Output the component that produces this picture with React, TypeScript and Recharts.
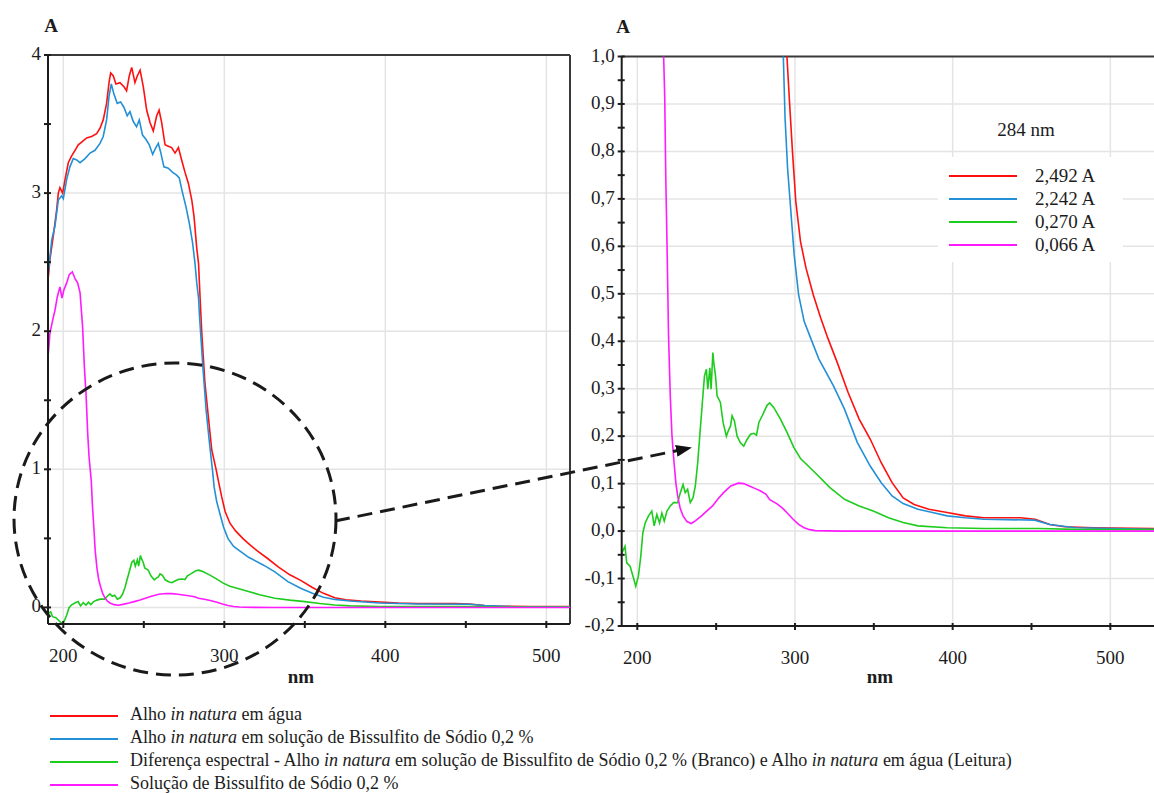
import { LineChart, Line, XAxis, YAxis, CartesianGrid, ReferenceLine } from 'recharts';

const FONT = '"Liberation Serif", "Times New Roman", serif';

// wavelengths (nm) and absorbance (A)
const redNm = [
  190.5, 191.7, 193.8, 195.9, 196.9, 197.9, 199.6, 201.1, 203.1, 205.2, 207.3, 209.3, 211.4, 214.5,
  217.6, 220.7, 222.8, 224.8, 226.9, 228.4, 229.4, 231.0, 232.7, 235.2, 237.7, 239.3, 241.0, 242.5,
  244.5, 246.0, 247.7, 249.7, 251.8, 253.9, 255.9, 258.0, 259.5, 261.1, 263.2, 265.2, 267.3, 269.4,
  271.5, 273.5, 275.6, 277.7, 279.8, 281.2, 282.9, 284.0, 285.0, 286.0, 288.0, 290.1, 292.2, 294.9,
  296.5, 298.4, 300.5, 303.5, 307.0, 311.6, 316.3, 320.9, 326.7, 333.7, 340.7, 347.7, 354.7, 361.6,
  368.6, 375.6, 384.9, 396.5, 408.1, 419.8, 443.0, 452.3, 461.6, 470.9, 489.5, 531.0,
];
const redA = [
  2.37, 2.52, 2.69, 2.88, 3.0, 3.04, 3.0, 3.1, 3.22, 3.27, 3.31, 3.35, 3.37, 3.4,
  3.41, 3.43, 3.47, 3.53, 3.65, 3.8, 3.87, 3.85, 3.79, 3.8, 3.77, 3.74, 3.85, 3.91,
  3.8, 3.85, 3.89, 3.77, 3.6, 3.51, 3.45, 3.56, 3.6, 3.51, 3.35, 3.34, 3.33, 3.29,
  3.33, 3.24, 3.15, 3.07, 2.95, 2.83, 2.6, 2.49, 2.23, 1.99, 1.62, 1.38, 1.14, 1.0,
  0.906, 0.8, 0.695, 0.61, 0.554, 0.498, 0.449, 0.406, 0.356, 0.292, 0.236, 0.194, 0.144, 0.102,
  0.07, 0.056, 0.046, 0.039, 0.032, 0.028, 0.028, 0.025, 0.014, 0.009, 0.007, 0.005,
];

const blueNm = [
  190.5, 192.8, 194.8, 196.9, 199.0, 200.0, 202.1, 204.1, 206.2, 208.3, 210.4, 213.5, 216.6, 219.7,
  222.8, 224.8, 226.9, 228.4, 229.8, 231.4, 233.5, 235.6, 237.7, 239.7, 241.4, 243.4, 245.5, 247.2,
  249.2, 251.3, 253.4, 255.5, 257.5, 259.0, 260.4, 262.5, 265.2, 267.9, 270.4, 272.0, 274.1, 276.2,
  278.3, 280.3, 281.8, 282.9, 284.0, 284.6, 286.7, 288.7, 290.8, 292.6, 293.7, 295.3, 297.7, 299.5,
  302.3, 305.8, 310.0, 315.1, 324.4, 331.4, 339.5, 347.7, 354.7, 361.6, 368.6, 378.0, 387.2, 396.5,
  408.0, 419.8, 452.0, 461.6, 478.0, 531.0,
];
const blueA = [
  2.4, 2.66, 2.76, 2.95, 2.98, 2.96, 3.1, 3.19, 3.25, 3.24, 3.22, 3.25, 3.29, 3.31,
  3.36, 3.41, 3.53, 3.7, 3.79, 3.72, 3.65, 3.66, 3.62, 3.56, 3.59, 3.52, 3.48, 3.53,
  3.42, 3.39, 3.35, 3.28, 3.33, 3.36, 3.3, 3.19, 3.18, 3.15, 3.13, 3.11, 3.0, 2.9,
  2.78, 2.64, 2.49, 2.35, 2.24, 2.11, 1.74, 1.43, 1.19, 1.0, 0.871, 0.765, 0.66, 0.582,
  0.498, 0.442, 0.406, 0.363, 0.306, 0.257, 0.187, 0.137, 0.102, 0.074, 0.058, 0.046, 0.039, 0.032,
  0.028, 0.025, 0.023, 0.014, 0.007, 0.0035,
];

const greenNm = [
  190.1, 192.2, 193.3, 195.4, 197.5, 199.0, 200.7, 202.2, 203.5, 205.0, 207.1, 209.2, 210.7, 212.4,
  214.1, 215.6, 217.1, 218.8, 220.9, 223.0, 225.6, 227.3, 229.0, 230.4, 231.9, 233.6, 235.3, 236.8,
  238.3, 239.6, 241.1, 242.6, 243.8, 244.7, 246.0, 246.8, 247.9, 248.5, 249.6, 250.6, 252.7, 254.4,
  256.5, 258.0, 259.1, 260.1, 261.6, 263.3, 265.4, 267.5, 269.6, 271.8, 273.9, 275.6, 277.1, 279.2,
  282.3, 284.0, 286.6, 290.8, 295.1, 299.3, 303.5, 312.8, 322.0, 331.4, 340.7, 350.0, 359.3, 368.6,
  378.0, 396.5, 419.8, 454.7, 478.0, 531.0,
];
const greenA = [
  -0.047, -0.032, -0.067, -0.074, -0.098, -0.116, -0.095, -0.053, -0.004, 0.017, 0.032, 0.042, 0.011, 0.035,
  0.017, 0.038, 0.021, 0.042, 0.053, 0.06, 0.06, 0.081, 0.098, 0.081, 0.088, 0.06, 0.07, 0.095,
  0.144, 0.2, 0.264, 0.327, 0.341, 0.299, 0.344, 0.299, 0.376, 0.355, 0.327, 0.285, 0.271, 0.229,
  0.2, 0.214, 0.221, 0.243, 0.232, 0.2, 0.186, 0.179, 0.193, 0.204, 0.206, 0.202, 0.229, 0.243,
  0.265, 0.27, 0.26, 0.236, 0.207, 0.176, 0.153, 0.123, 0.092, 0.067, 0.053, 0.042, 0.028, 0.018,
  0.011, 0.007, 0.0056, 0.0056, 0.0035, 0.003,
];

const magentaNm = [
  190.7, 191.7, 193.4, 194.8, 196.3, 197.9, 199.2, 200.4, 202.1, 203.7, 205.6, 207.3, 208.9, 210.4,
  212.0, 213.1, 214.1, 215.2, 216.0, 216.7, 217.4, 218.1, 219.0, 219.8, 220.9, 222.0, 223.3, 224.5,
  225.6, 227.2, 229.0, 231.5, 234.2, 237.0, 240.7, 244.0, 247.7, 251.0, 254.7, 259.3, 264.0, 267.5,
  271.0, 274.5, 277.9, 281.5, 284.0, 288.4, 291.9, 295.4, 298.8, 302.3, 305.8, 309.3, 312.8, 330.0,
  360.0, 400.0, 450.0, 531.0,
];
const magentaA = [
  1.84, 1.985, 2.08, 2.15, 2.25, 2.32, 2.24, 2.3, 2.35, 2.41, 2.43, 2.38, 2.35, 2.28,
  2.03, 1.74, 1.55, 1.25, 1.09, 1.0, 0.913, 0.737, 0.575, 0.413, 0.285, 0.2, 0.144, 0.1,
  0.074, 0.048, 0.032, 0.02, 0.016, 0.022, 0.032, 0.042, 0.053, 0.067, 0.081, 0.095, 0.101, 0.1,
  0.095, 0.09, 0.085, 0.078, 0.066, 0.058, 0.049, 0.037, 0.025, 0.014, 0.007, 0.003, 0.001, 0.0,
  0.0, 0.0, 0.0, 0.0,
];

const seriesKeys = ['red', 'blue', 'green', 'magenta'];
const seriesColors = ['#ff1010', '#2390d6', '#1ecc1e', '#ff1aff'];
const legendLabels = [
  'Alho in natura em água',
  'Alho in natura em solução de Bissulfito de Sódio 0,2 %',
  'Diferença espectral - Alho in natura em solução de Bissulfito de Sódio 0,2 % (Branco) e Alho in natura em água (Leitura)',
  'Solução de Bissulfito de Sódio 0,2 %',
];
const insetTitle = '284 nm';
const insetValues = ['2,492 A', '2,242 A', '0,270 A', '0,066 A'];

const xTicks = [200, 250, 300, 350, 400, 450, 500];
const xGrid = [200, 300, 400, 500];
const leftYTicks = [0, 0.5, 1, 1.5, 2, 2.5, 3, 3.5, 4];
const leftYGrid = [0, 1, 2, 3];
const rightYTicks = [
  -0.2, -0.15, -0.1, -0.05, 0, 0.05, 0.1, 0.15, 0.2, 0.25, 0.3, 0.35, 0.4, 0.45, 0.5, 0.55, 0.6, 0.65,
  0.7, 0.75, 0.8, 0.85, 0.9, 0.95, 1.0,
];
const rightYGrid = [-0.1, 0, 0.1, 0.2, 0.3, 0.4, 0.5, 0.6, 0.7, 0.8, 0.9];

const toPoints = (nm: number[], a: number[], key: string) => nm.map((x, i) => ({ nm: x, [key]: a[i] }));

const series = [
  toPoints(redNm, redA, 'red'),
  toPoints(blueNm, blueA, 'blue'),
  toPoints(greenNm, greenA, 'green'),
  toPoints(magentaNm, magentaA, 'magenta'),
];

const INK = '#1c1c1c';

const makeYTick = (isMajor: (v: number) => boolean, fmt: (v: number) => string) => (props: any) => {
  const { x, y, payload } = props;
  const v = Number(payload.value);
  return (
    <g>
      <line x1={x - 4} x2={x + 3} y1={y} y2={y} stroke={INK} strokeWidth={2} />
      {isMajor(v) && (
        <text x={x - 7} y={y + 5} textAnchor="end" fontFamily={FONT} fontSize={19} fill={INK}>
          {fmt(v)}
        </text>
      )}
    </g>
  );
};

const XTick = (props: any) => {
  const { x, y, payload } = props;
  const v = Number(payload.value);
  return (
    <g>
      <line x1={x} x2={x} y1={y - 3} y2={y + 4} stroke={INK} strokeWidth={2} />
      {v % 100 === 0 && (
        <text x={x} y={y + 38} textAnchor="middle" fontFamily={FONT} fontSize={19} fill={INK}>
          {v}
        </text>
      )}
    </g>
  );
};

const leftYTick = makeYTick((v) => Number.isInteger(v), (v) => String(v));
const rightYTick = makeYTick(
  (v) => Math.abs(v * 10 - Math.round(v * 10)) < 1e-6,
  (v) => v.toFixed(1).replace('.', ','),
);

function Spectra({ xDomain, yDomain, yTicks, yGrid, yTick, yWidth }: any) {
  return (
    <>
      <CartesianGrid horizontalValues={yGrid} verticalValues={xGrid} stroke="#e4e4e4" strokeWidth={1.5} />
      <XAxis
        type="number"
        dataKey="nm"
        domain={xDomain}
        allowDataOverflow
        ticks={xTicks}
        interval={0}
        height={60}
        tickSize={0}
        tickMargin={0}
        tickLine={false}
        tick={XTick}
        axisLine={{ stroke: INK, strokeWidth: 2 }}
      />
      <YAxis
        type="number"
        domain={yDomain}
        allowDataOverflow
        ticks={yTicks}
        interval={0}
        width={yWidth}
        tickSize={0}
        tickMargin={0}
        tickLine={false}
        tick={yTick}
        axisLine={{ stroke: INK, strokeWidth: 2 }}
      />
      <ReferenceLine y={yDomain[1]} stroke="#3a3a3a" strokeWidth={2} />
      <ReferenceLine x={xDomain[1]} stroke="#3a3a3a" strokeWidth={2} />
      {series.map((pts, i) => (
        <Line
          key={seriesKeys[i]}
          data={pts}
          dataKey={seriesKeys[i]}
          type="linear"
          stroke={seriesColors[i]}
          strokeWidth={1.6}
          dot={false}
          activeDot={false}
          isAnimationActive={false}
        />
      ))}
    </>
  );
}

function LegendLabel({ label, x, y }: { label: string; x: number; y: number }) {
  const parts = label.split('in natura');
  return (
    <text x={x} y={y} fontFamily={FONT} fontSize={18} fill={INK}>
      {parts.map((p, i) => (
        <tspan key={i}>
          {p}
          {i < parts.length - 1 && <tspan fontStyle="italic">in natura</tspan>}
        </tspan>
      ))}
    </text>
  );
}

export default function App() {
  const legendRows = [716, 739, 762, 785];
  const insetRows = [176, 199, 222, 245];
  return (
    <div
      style={{
        position: 'fixed',
        left: 0,
        top: 0,
        width: 1154,
        height: 793,
        overflow: 'hidden',
        background: '#fff',
      }}
    >
      <div style={{ position: 'absolute', left: 0, top: 0 }}>
        <LineChart width={575} height={684} margin={{ top: 55, right: 5, bottom: 0, left: 0 }}>
          {Spectra({
            xDomain: [190.5, 514.7],
            yDomain: [-0.12, 4],
            yTicks: leftYTicks,
            yGrid: leftYGrid,
            yTick: leftYTick,
            yWidth: 48,
          })}
        </LineChart>
      </div>
      <div style={{ position: 'absolute', left: 574, top: 0 }}>
        <LineChart width={590} height={686} margin={{ top: 56.5, right: 4, bottom: 0, left: 0 }}>
          {Spectra({
            xDomain: [190.1, 531.5],
            yDomain: [-0.2, 1.0],
            yTicks: rightYTicks,
            yGrid: rightYGrid,
            yTick: rightYTick,
            yWidth: 47.7,
          })}
        </LineChart>
      </div>
      <svg
        width={1154}
        height={793}
        style={{ position: 'absolute', left: 0, top: 0, pointerEvents: 'none' }}
      >
        <defs>
          <marker
            id="arrowHead"
            markerWidth={16}
            markerHeight={12}
            refX={14}
            refY={6}
            orient="auto"
            markerUnits="userSpaceOnUse"
          >
            <path d="M0,0 L16,6 L0,12 z" fill="#111" />
          </marker>
        </defs>
        <text x={51} y={32} textAnchor="middle" fontFamily={FONT} fontSize={19} fontWeight="bold" fill={INK}>
          A
        </text>
        <text x={623} y={33} textAnchor="middle" fontFamily={FONT} fontSize={19} fontWeight="bold" fill={INK}>
          A
        </text>
        <text x={301} y={683} textAnchor="middle" fontFamily={FONT} fontSize={19} fontWeight="bold" fill={INK}>
          nm
        </text>
        <text x={880} y={683} textAnchor="middle" fontFamily={FONT} fontSize={19} fontWeight="bold" fill={INK}>
          nm
        </text>

        <ellipse cx={175} cy={519} rx={161} ry={156} fill="none" stroke="#1a1a1a" strokeWidth={3} strokeDasharray="15 8" />
        <line
          x1={335}
          y1={521}
          x2={690}
          y2={448}
          stroke="#1a1a1a"
          strokeWidth={3}
          strokeDasharray="15 8"
          markerEnd="url(#arrowHead)"
        />

        <rect x={978} y={112} width={98} height={36} fill="#fff" />
        <text x={1026} y={136} textAnchor="middle" fontFamily={FONT} fontSize={19} fill={INK}>
          {insetTitle}
        </text>
        <rect x={938} y={157} width={185} height={105} fill="#fff" />
        {insetValues.map((v, i) => (
          <g key={v}>
            <line x1={949} x2={1017} y1={insetRows[i]} y2={insetRows[i]} stroke={seriesColors[i]} strokeWidth={2} />
            <text x={1035} y={insetRows[i] + 6} fontFamily={FONT} fontSize={19} fill={INK}>
              {v}
            </text>
          </g>
        ))}

        {legendLabels.map((label, i) => (
          <g key={label}>
            <line x1={50} x2={118} y1={legendRows[i]} y2={legendRows[i]} stroke={seriesColors[i]} strokeWidth={2} />
            <LegendLabel label={label} x={130} y={legendRows[i] + 4} />
          </g>
        ))}
      </svg>
    </div>
  );
}
